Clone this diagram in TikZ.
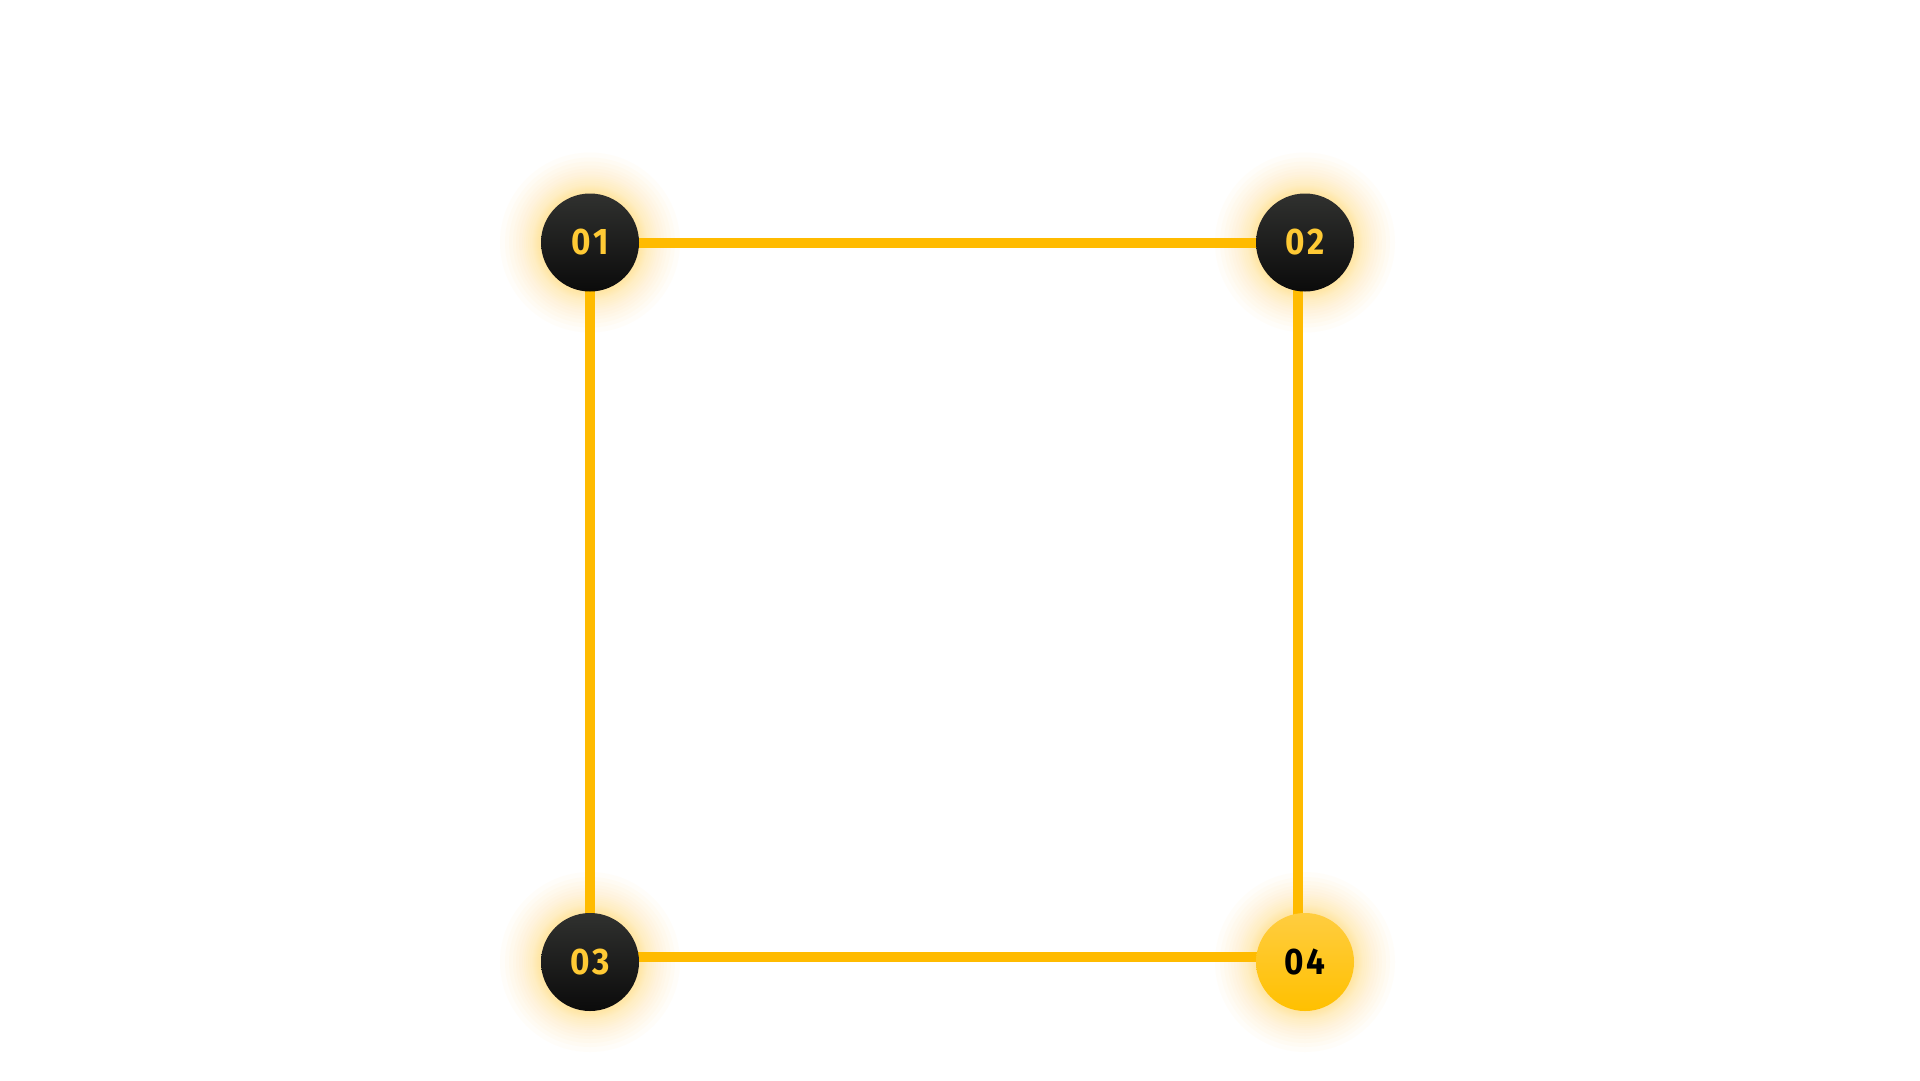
\documentclass[tikz,border=0pt]{standalone}
\usepackage{fontspec}
\setmainfont{Fira Sans}
\newfontfamily\numfont{Fira Sans}[FakeStretch=0.9,LetterSpace=8]
\definecolor{linec}{HTML}{FFBB00}
\definecolor{glowc}{HTML}{FFD54F}
\definecolor{darktop}{HTML}{30312F}
\definecolor{darkbot}{HTML}{0B0B0B}
\definecolor{numc}{HTML}{FFCA35}
\definecolor{yeltop}{HTML}{FFCD40}
\definecolor{yelbot}{HTML}{FFC000}
\tikzset{
  x=1pt, y=-1pt,
  conn/.style={draw=linec, line width=10pt},
  numfontstyle/.style={font=\numfont\bfseries\fontsize{37}{37}\selectfont},
  darkdot/.style={circle, minimum size=98pt, inner sep=0pt, top color=darktop, bottom color=darkbot, text=numc, numfontstyle},
  yeldot/.style={circle, minimum size=98pt, inner sep=0pt, top color=yeltop, bottom color=yelbot, text=black, numfontstyle},
}
\begin{document}
\begin{tikzpicture}
\useasboundingbox[fill=white] (0,0) rectangle (1920,1080);
\coordinate (p1) at (590,242.5);
\coordinate (p2) at (1305,242.5);
\coordinate (p3) at (590,962);
\coordinate (p4) at (1305,962);
% glows
\foreach \p in {p1,p2,p3,p4}{
  \foreach \r in {50,51,52,53,54,55,56,57,58,60,62,64,66,68,71,74,77,81,85,90}{
    \fill[glowc, opacity=0.03] (\p) circle (\r);
  }
}
% connectors
\coordinate (r2) at ([xshift=-7pt]p2);
\coordinate (r4) at ([xshift=-7pt]p4);
\coordinate (b3) at ([yshift=5pt]p3);
\coordinate (b4) at ([yshift=5pt]p4);
\draw[conn] (p1) -- (p2);
\draw[conn] (p1) -- (p3);
\draw[conn] (r2) -- (r4);
\draw[conn] (b3) -- (b4);
% nodes
\node[darkdot] (n1) at (p1) {01};
\node[darkdot] (n2) at (p2) {02};
\node[darkdot] (n3) at (p3) {03};
\node[yeldot] (n4) at (p4) {04};
\end{tikzpicture}
\end{document}
